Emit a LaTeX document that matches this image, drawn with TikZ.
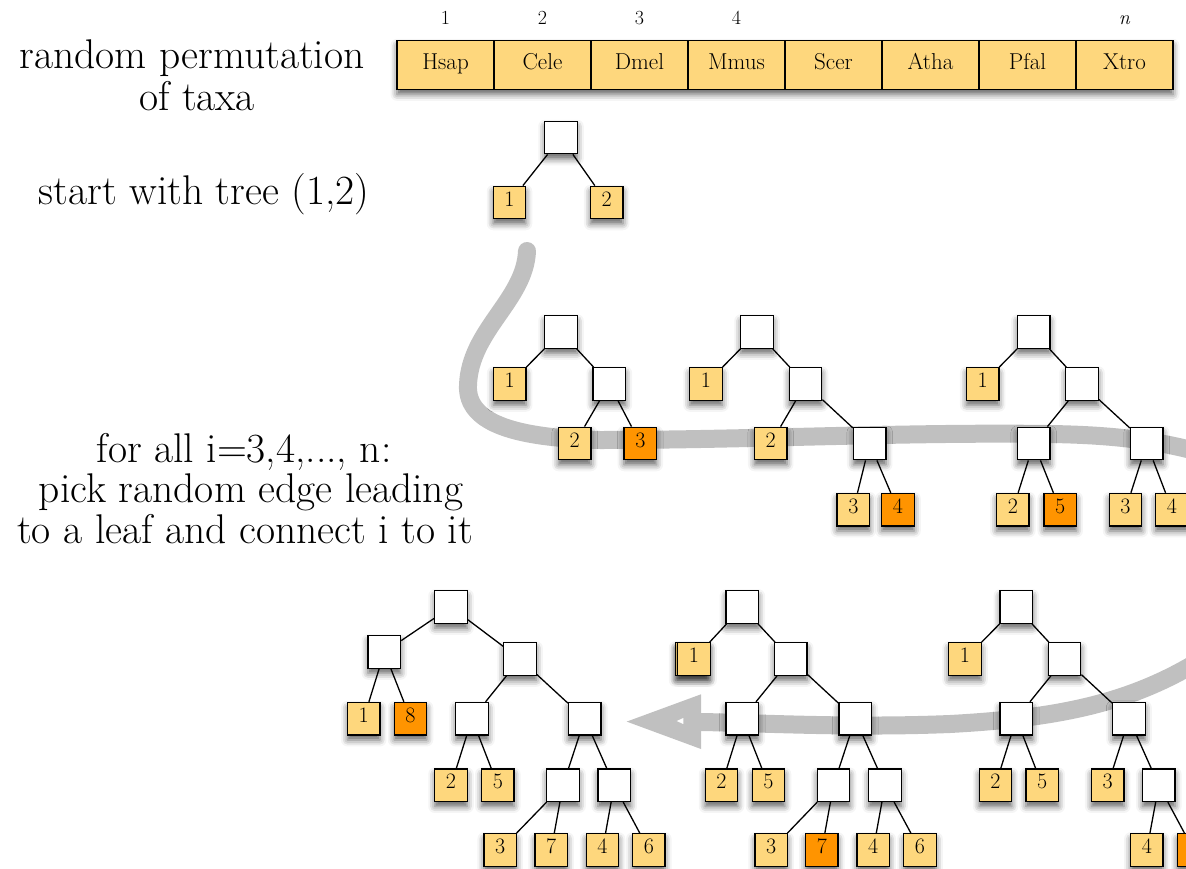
\documentclass[tikz,border=0pt]{standalone}
\usepackage{fontspec}
\usetikzlibrary{shadows.blur}
\definecolor{taxon}{RGB}{254,215,125}
\definecolor{added}{RGB}{255,148,0}
\definecolor{track}{RGB}{192,192,192}
\tikzset{
  softshadow/.style={blur shadow={shadow xshift=0pt, shadow yshift=-5pt, shadow blur radius=6.5pt, shadow opacity=62}},
  sq/.style={rectangle, draw=black, line width=1.3pt, minimum size=32.5pt, inner sep=0pt,
             font=\fontsize{22}{22}\selectfont, text depth=7pt},
  inode/.style={sq, fill=white, softshadow},
  tleaf/.style={sq, fill=taxon, softshadow},
  nleaf/.style={sq, fill=added, softshadow},
  branch/.style={draw=black, line width=1.3pt},
  cell/.style={rectangle, draw=black, line width=1.5pt, fill=taxon, minimum width=97pt,
               minimum height=49pt, inner sep=0pt, font=\fontsize{23}{23}\selectfont,
               text height=16pt, text depth=7pt},
  idx/.style={font=\fontsize{20}{20}\selectfont, anchor=base},
  caption/.style={font=\fontsize{41.5}{42}\selectfont, anchor=base},
  band/.style={draw=track, line width=18pt},
}
\begin{document}
\begin{tikzpicture}[x=1pt, y=-1pt]
\useasboundingbox (0,0) rectangle (1186,869);
\clip (0,0) rectangle (1186,869);

% grey track: down from the first tree, along the middle row, out to the right
\coordinate (trackStart) at (527,251);
\coordinate (trackBend) at (468,385);
\coordinate (trackMid) at (600,440);
\coordinate (trackRight) at (1050,434);
\coordinate (trackOut) at (1210,455);
\draw[band, line cap=round] (trackStart)
   .. controls (525,300) and (470,330) .. (trackBend)
   .. controls (466,425) and (520,438) .. (trackMid)
   .. controls (750,440) and (900,432) .. (trackRight)
   .. controls (1120,435) and (1165,442) .. (trackOut);
% ... and back in from the right along the bottom row, ending in the arrow head
\coordinate (trackIn) at (1210,654);
\coordinate (trackLow) at (950,724);
\coordinate (tip) at (626.7,721.6);
\coordinate (barbA) at (701,694.3);
\coordinate (barbB) at (701,749);
\coordinate (trackEnd) at (701,722);
\draw[band] (trackIn)
   .. controls (1135,703) and (1060,718) .. (trackLow)
   .. controls (850,728) and (760,723) .. (trackEnd);
\fill[track] (tip) -- (barbA) -- (barbB) -- cycle;
\fill[white] (676.7,721) -- (683.3,718) -- (683.3,724) -- cycle;

% captions
\node[caption] (capA1) at (192,69) {random permutation};
\node[caption] (capA2) at (197,111) {of taxa};
\node[caption] (capB)  at (204,205) {start with tree (1,2)};
\node[caption] (capC1) at (244,462) {for all i=3,4,..., n:};
\node[caption] (capC2) at (251,502) {pick random edge leading};
\node[caption] (capC3) at (245,543) {to a leaf and connect i to it};

% permutation bar: one shadow under the whole bar, then the cells
\coordinate (barNW) at (397,40.35);
\coordinate (barSE) at (1173,89.35);
\path[softshadow] (barNW) rectangle (barSE);
\foreach \k/\name in {1/Hsap, 2/Cele, 3/Dmel, 4/Mmus, 5/Scer, 6/Atha, 7/Pfal, 8/Xtro}
  \node[cell] (t\k) at ({445.5+97*(\k-1)},64.85) {\name};
\foreach \k in {1,2,3,4}
  \node[idx] (n\k) at ({445.5+97*(\k-1)},25) {\k};
\node[idx] (nn) at (1124.5,25) {\textit{n}};

% tree (1,2)
\node[inode] (a0) at (561,137.5) {};
\node[tleaf] (a1) at (509.5,202.5) {1};
\node[tleaf] (a2) at (606.7,202.5) {2};

% insertion of taxon 3
\node[inode] (b0) at (561,332) {};
\node[tleaf] (b1) at (509.7,384) {1};
\node[inode] (bi) at (609.3,384) {};
\node[tleaf] (b2) at (574.7,443.5) {2};
\node[nleaf] (b3) at (640.3,443.5) {3};

% insertion of taxon 4
\node[inode] (c0) at (757,332) {};
\node[tleaf] (c1) at (706,384) {1};
\node[inode] (ci) at (805.5,384) {};
\node[tleaf] (c2) at (770.7,443.5) {2};
\node[inode] (cj) at (869.7,443.5) {};
\node[tleaf] (c3) at (853.3,509.7) {3};
\node[nleaf] (c4) at (898,509.7) {4};

% insertion of taxon 5
\node[inode] (d0) at (1033.7,332) {};
\node[tleaf] (d1) at (982.7,384) {1};
\node[inode] (da) at (1082,384) {};
\node[inode] (db) at (1033.7,443.5) {};
\node[inode] (dc) at (1146.7,443.5) {};
\node[tleaf] (d2) at (1012.8,509.7) {2};
\node[nleaf] (d5) at (1060.2,509.7) {5};
\node[tleaf] (d3) at (1125.5,509.7) {3};
\node[tleaf] (d4) at (1172,509.7) {4};

% insertion of taxon 6 (the new leaf runs off the right edge)
\node[inode] (g0) at (1016.3,607) {};
\node[tleaf] (g1) at (965,659) {1};
\node[inode] (gR) at (1064.5,659) {};
\node[inode] (gL2) at (1016.3,718.7) {};
\node[inode] (gR2) at (1129,718.7) {};
\node[tleaf] (g2) at (995.5,785.2) {2};
\node[tleaf] (g5) at (1042.2,785.2) {5};
\node[tleaf] (g3) at (1107.7,785.2) {3};
\node[inode] (gB) at (1158.8,785.2) {};
\node[tleaf] (g4) at (1146.8,850) {4};
\node[nleaf] (g6) at (1193.5,850) {};

% insertion of taxon 7
\node[inode] (f0) at (742.3,607) {};
\node[tleaf] (f1x) at (691.5,659) {};
\node[tleaf] (f1) at (694,659) {1};
\node[inode] (fR) at (790.7,659) {};
\node[inode] (fL2) at (742.3,718.7) {};
\node[inode] (fR2) at (855.3,718.7) {};
\node[tleaf] (f2) at (721.5,785.2) {2};
\node[tleaf] (f5) at (768.5,785.2) {5};
\node[inode] (fA) at (833.5,785.2) {};
\node[inode] (fB) at (885,785.2) {};
\node[tleaf] (f3) at (771.2,850) {3};
\node[nleaf] (f7) at (821.8,850) {7};
\node[tleaf] (f4) at (873.2,850) {4};
\node[tleaf] (f6) at (920,850) {6};

% insertion of taxon 8
\node[inode] (e0) at (451,607) {};
\node[inode] (eL) at (384.3,652) {};
\node[inode] (eR) at (520,659) {};
\node[tleaf] (e1) at (363.7,718.7) {1};
\node[nleaf] (e8) at (410.5,718.7) {8};
\node[inode] (eRL) at (472,718.7) {};
\node[inode] (eRR) at (584.8,718.7) {};
\node[tleaf] (e2) at (451,785.2) {2};
\node[tleaf] (e5) at (497.8,785.2) {5};
\node[inode] (eA) at (563,785.2) {};
\node[inode] (eB) at (614.2,785.2) {};
\node[tleaf] (e3) at (500.2,850) {3};
\node[tleaf] (e7) at (551.2,850) {7};
\node[tleaf] (e4) at (602.5,850) {4};
\node[tleaf] (e6) at (648.8,850) {6};

% branches
\foreach \p/\c in {a0/a1, a0/a2,
    b0/b1, b0/bi, bi/b2, bi/b3,
    c0/c1, c0/ci, ci/c2, ci/cj, cj/c3, cj/c4,
    d0/d1, d0/da, da/db, da/dc, db/d2, db/d5, dc/d3, dc/d4,
    g0/g1, g0/gR, gR/gL2, gR/gR2, gL2/g2, gL2/g5, gR2/g3, gR2/gB, gB/g4, gB/g6,
    f0/f1, f0/fR, fR/fL2, fR/fR2, fL2/f2, fL2/f5, fR2/fA, fR2/fB, fA/f3, fA/f7, fB/f4, fB/f6,
    e0/eL, e0/eR, eL/e1, eL/e8, eR/eRL, eR/eRR, eRL/e2, eRL/e5, eRR/eA, eRR/eB,
    eA/e3, eA/e7, eB/e4, eB/e6}
  \draw[branch] (\p) -- (\c);
\end{tikzpicture}
\end{document}
